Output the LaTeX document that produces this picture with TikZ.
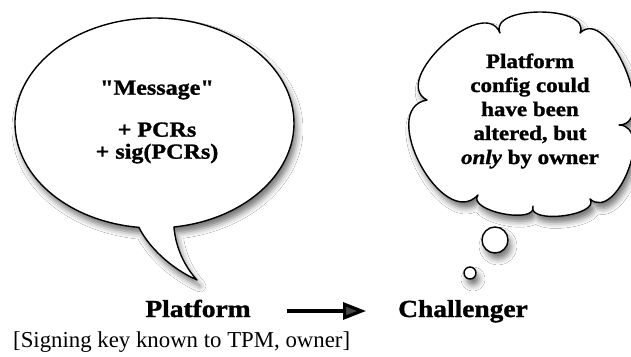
\documentclass[tikz,border=0pt]{standalone}
\usepackage{fontspec}
\setmainfont{Liberation Serif}
\newfontfamily\labelfont[FakeStretch=1.12,FakeBold=1.3]{Liberation Serif}
\usetikzlibrary{calc,arrows.meta,shadows.blur}

% one rounded bulge of the cloud outline, from #1 to #2, bulging outwards by #3
\newcommand\cloudlobe[3]{.. controls ($(#1)!#3!90:(#2) + 0.15*(#1) - 0.15*(#2)$) and ($(#2)!#3!-90:(#1) + 0.15*(#2) - 0.15*(#1)$) .. (#2)}

\begin{document}
\begin{tikzpicture}[x=1pt,y=-1pt,
  bubble/.style={draw=black, line width=1.4pt, fill=white, line join=round,
    blur shadow={shadow xshift=3pt, shadow yshift=-6pt, shadow blur radius=6pt, shadow opacity=55}},
  heavy/.style={font=\labelfont\bfseries\fontsize{21.5}{22}\selectfont, align=center, inner sep=0pt},
  cloudtext/.style={font=\labelfont\bfseries\fontsize{20.5}{24}\selectfont, align=center, inner sep=0pt},
  actor/.style={font=\labelfont\bfseries\fontsize{24.5}{28}\selectfont, inner sep=0pt, anchor=base},
  note/.style={font=\fontsize{22.8}{26}\selectfont, inner sep=0pt, anchor=base west},
  flow/.style={line width=3.2pt, -{Triangle[length=23pt,width=17pt]}}
]
\useasboundingbox[fill=white] (0,0) rectangle (631,356);

% speech bubble with its tail
\path[bubble] (173.9,227) arc[start angle=82, end angle=-263.6, x radius=139.5, y radius=105]
  .. controls (148,246) and (170,268) .. (197,280)
  .. controls (186,268) and (176,250) .. cycle;
\node[heavy] (msg) at (157,122) {"Message"\\[20pt]+ PCRs\\+ sig(PCRs)};

% thought cloud
\coordinate (ca) at (427,100);
\coordinate (ct1) at (500,33);
\coordinate (ct2) at (580,33);
\coordinate (cr) at (619,125);
\coordinate (cb1) at (590,199);
\coordinate (cb2) at (533,206);
\coordinate (cb3) at (478,195);
\path[bubble] (ca) \cloudlobe{ca}{ct1}{0.4} \cloudlobe{ct1}{ct2}{0.35}
  \cloudlobe{ct2}{cr}{0.37} \cloudlobe{cr}{cb1}{0.42} \cloudlobe{cb1}{cb2}{0.31}
  \cloudlobe{cb2}{cb3}{0.32} \cloudlobe{cb3}{ca}{0.45} -- cycle;
\node[cloudtext] (thought) at (530,111) {Platform\\config could\\have been\\altered, but\\\textit{only} by owner};

% thought dots
\node[bubble, circle, minimum size=26pt, inner sep=0pt] (dotbig) at (495,240) {};
\node[bubble, circle, minimum size=12pt, inner sep=0pt] (dotsmall) at (470,273) {};

% parties and the message flow
\node[actor] (plat) at (198,317) {Platform};
\node[actor] (chal) at (463,317) {Challenger};
\node[note] (key) at (13,347) {[Signing key known to TPM, owner]};
\draw[flow] ($(plat.base east)+(36pt,6pt)$) -- ($(chal.base west)+(-32pt,6pt)$);
\end{tikzpicture}
\end{document}
